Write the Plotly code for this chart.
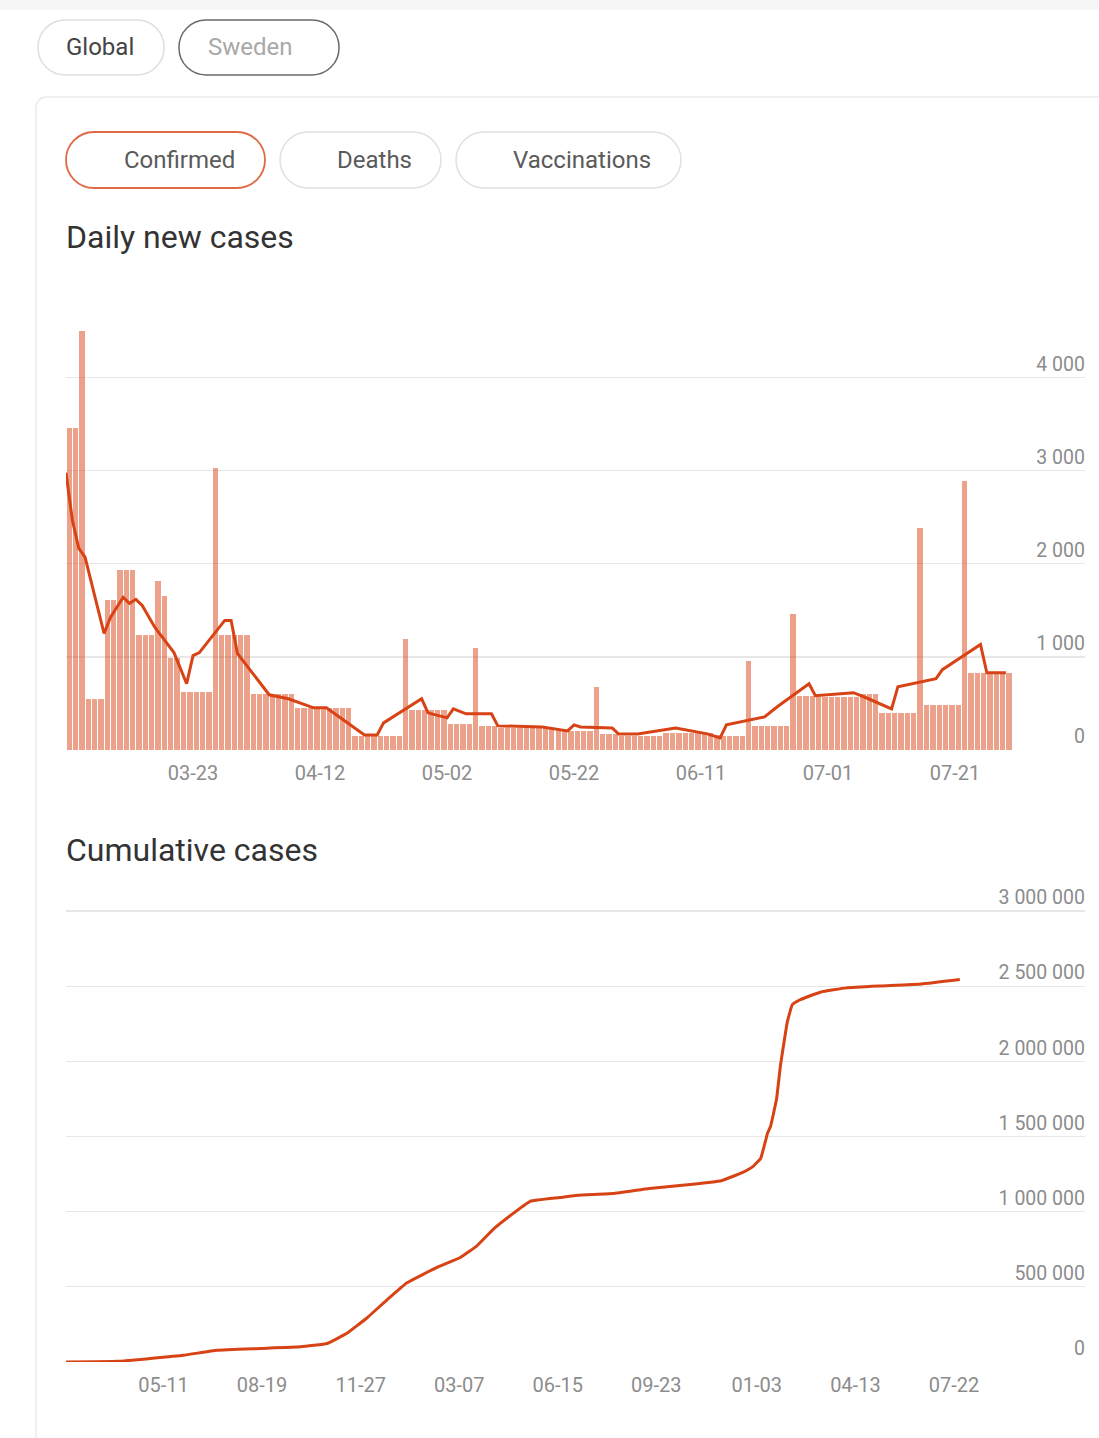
import plotly.graph_objects as go
import pandas as pd

# ---------------- data ----------------
daily_start = "2022-03-03"
daily_cases = [
    3460, 3460, 4500, 550, 550, 550, 1607, 1607, 1931, 1931,
    1931, 1240, 1240, 1240, 1812, 1650, 993, 993, 626, 626,
    626, 626, 626, 3031, 1230, 1230, 1230, 1230, 1230, 604,
    604, 604, 604, 604, 604, 604, 453, 453, 453, 453,
    453, 453, 453, 453, 453, 151, 151, 151, 151, 151,
    151, 151, 151, 1197, 430, 430, 430, 430, 430, 430,
    280, 280, 280, 280, 1100, 259, 259, 259, 237, 237,
    237, 237, 237, 237, 237, 237, 237, 205, 205, 205,
    205, 205, 205, 680, 173, 173, 173, 150, 150, 150,
    150, 150, 150, 150, 185, 185, 185, 185, 185, 185,
    185, 185, 165, 151, 151, 151, 151, 960, 259, 259,
    259, 259, 259, 259, 1456, 583, 583, 583, 565, 565,
    565, 565, 565, 565, 565, 604, 604, 604, 400, 400,
    400, 400, 400, 400, 2384, 485, 485, 485, 485, 485,
    485, 2891, 830, 830, 830, 830, 830, 830, 830,
]
avg_day_index = [0, 1, 2, 3, 6, 7, 9, 10, 11, 12, 14, 17, 19, 20, 21, 25, 26, 27, 32, 35,
                 39, 41, 47, 49, 50, 56, 57, 60, 61, 63, 67, 68, 75, 79, 80, 81, 86, 87, 90, 96,
                 101, 103, 104, 110, 112, 117, 118, 124, 126, 130, 131, 137, 138, 144, 145, 148]
avg_values = [2977, 2470, 2168, 2071, 1251, 1424, 1640, 1575, 1618, 1553, 1316, 1046, 712, 1014, 1046,
              1392, 1392, 1036, 593, 550, 453, 453, 162, 162, 291, 550, 399, 345, 442, 388, 388, 259,
              248, 205, 270, 248, 237, 173, 173, 237, 173, 129, 270, 356, 464, 712, 583, 615, 561, 442,
              680, 766, 863, 1133, 830, 830]

cum_dates = ["2020-02-02", "2020-03-25", "2020-05-31", "2020-07-04", "2020-08-17", "2020-09-27",
             "2020-10-24", "2020-11-13", "2020-12-03", "2020-12-24", "2021-01-13", "2021-02-12",
             "2021-03-08", "2021-03-25", "2021-04-11", "2021-04-28", "2021-05-18", "2021-06-17",
             "2021-07-05", "2021-08-10", "2021-09-16", "2021-10-22", "2021-11-28", "2021-12-19",
             "2021-12-30", "2022-01-07", "2022-01-14", "2022-01-17", "2022-01-23", "2022-01-27",
             "2022-02-03", "2022-02-08", "2022-02-16", "2022-03-09", "2022-04-04", "2022-05-10",
             "2022-06-19", "2022-07-28"]
cum_values = [0, 4500, 45000, 78000, 90000, 101000, 123000, 191000, 291000, 415000, 527000, 628000,
              695000, 773000, 886000, 975000, 1069000, 1094000, 1110000, 1121000, 1155000, 1177000,
              1206000, 1260000, 1300000, 1356000, 1525000, 1569000, 1749000, 1973000, 2264000,
              2377000, 2410000, 2462000, 2489000, 2502000, 2515000, 2545000]

daily_ticks = [0, 1000, 2000, 3000, 4000]
cum_ticks = [0, 500000, 1000000, 1500000, 2000000, 2500000, 3000000]
daily_xtick_dates = ["2022-03-23", "2022-04-12", "2022-05-02", "2022-05-22", "2022-06-11",
                     "2022-07-01", "2022-07-21"]
cum_xtick_dates = ["2020-05-11", "2020-08-19", "2020-11-27", "2021-03-07", "2021-06-15",
                   "2021-09-23", "2022-01-03", "2022-04-13", "2022-07-22"]
region_buttons = ["Global", "Sweden"]
metric_buttons = ["Confirmed", "Deaths", "Vaccinations"]
titles = ["Daily new cases", "Cumulative cases"]

# ---------------- helpers ----------------
W, H = 1099, 1438
def fx(px): return px / W
def fy(py): return 1 - py / H

def rrect(x0, y0, x1, y1, r):
    k = 0.5523 * r
    pts = [
        f"M{fx(x0 + r)},{fy(y0)}",
        f"L{fx(x1 - r)},{fy(y0)}",
        f"C{fx(x1 - r + k)},{fy(y0)} {fx(x1)},{fy(y0 + r - k)} {fx(x1)},{fy(y0 + r)}",
        f"L{fx(x1)},{fy(y1 - r)}",
        f"C{fx(x1)},{fy(y1 - r + k)} {fx(x1 - r + k)},{fy(y1)} {fx(x1 - r)},{fy(y1)}",
        f"L{fx(x0 + r)},{fy(y1)}",
        f"C{fx(x0 + r - k)},{fy(y1)} {fx(x0)},{fy(y1 - r + k)} {fx(x0)},{fy(y1 - r)}",
        f"L{fx(x0)},{fy(y0 + r)}",
        f"C{fx(x0)},{fy(y0 + r - k)} {fx(x0 + r - k)},{fy(y0)} {fx(x0 + r)},{fy(y0)}",
        "Z",
    ]
    return " ".join(pts)

DAY = 86400000
ORANGE = "#D84315"
BAR = "rgba(216,67,21,0.5)"
TICKC = "#8c8c8c"
GRID = "#e7e7e7"
FONT = "Roboto"

dates = pd.date_range(daily_start, periods=len(daily_cases), freq="D")
avg_dates = [dates[i] for i in avg_day_index]

fig = go.Figure()
fig.add_trace(go.Bar(x=dates, y=daily_cases, marker_color=BAR, marker_line_width=0,
                     width=0.84 * DAY, offset=0.08 * DAY, xaxis="x", yaxis="y", hoverinfo="skip"))
fig.add_trace(go.Scatter(x=avg_dates, y=avg_values, mode="lines",
                         line=dict(color=ORANGE, width=3), xaxis="x", yaxis="y", hoverinfo="skip"))
fig.add_trace(go.Scatter(x=pd.to_datetime(cum_dates), y=cum_values, mode="lines",
                         line=dict(color=ORANGE, width=3, shape="spline", smoothing=0.3),
                         xaxis="x2", yaxis="y2", hoverinfo="skip"))

shapes = []
shapes.append(dict(type="rect", xref="paper", yref="paper", x0=0, x1=1, y0=fy(10), y1=1,
                   fillcolor="#f6f6f6", line=dict(width=0), layer="below"))
shapes.append(dict(type="path", xref="paper", yref="paper", path=rrect(36, 97, 1130, 1470, 10),
                   fillcolor="white", line=dict(color="#ebebeb", width=1.5), layer="below"))

annotations = []
region_pos = [(38, 164, "#dedede", "#444444", 100), (179, 339, "#6a6a6a", "#a8a8a8", 250)]
for (x0, x1, bc, tc, cx), label in zip(region_pos, region_buttons):
    shapes.append(dict(type="path", xref="paper", yref="paper", path=rrect(x0, 20, x1, 75, 27),
                       fillcolor="white", line=dict(color=bc, width=1.5), layer="below"))
    annotations.append(dict(x=fx(cx), y=fy(47), xref="paper", yref="paper", text=label,
                            showarrow=False, xanchor="center", yanchor="middle",
                            font=dict(family=FONT, size=24, color=tc)))
metric_pos = [(66, 265, "#df6a45", 179), (280, 441, "#e0e0e0", 374), (456, 681, "#e0e0e0", 582)]
for (x0, x1, bc, cx), label in zip(metric_pos, metric_buttons):
    shapes.append(dict(type="path", xref="paper", yref="paper", path=rrect(x0, 132, x1, 188, 28),
                       fillcolor="white", line=dict(color=bc, width=1.8 if label == "Confirmed" else 1.5),
                       layer="below"))
    annotations.append(dict(x=fx(cx), y=fy(160), xref="paper", yref="paper", text=label,
                            showarrow=False, xanchor="center", yanchor="middle",
                            font=dict(family=FONT, size=24, color="#5a5a5a")))
for ty, t in zip([237, 850], titles):
    annotations.append(dict(x=fx(64), y=fy(ty), xref="paper", yref="paper", text=t,
                            showarrow=False, xanchor="left", yanchor="middle",
                            font=dict(family=FONT, size=32, color="#333333")))

common_x = dict(type="date", showgrid=False, zeroline=False, showline=False, automargin=False,
                ticks="", ticklabelstandoff=9,
                tickfont=dict(family=FONT, size=20, color=TICKC), fixedrange=True)
common_y = dict(side="right", ticklabelposition="inside top", gridcolor=GRID, gridwidth=1.3,
                zeroline=False, showline=False, tickformat=",d", ticks="", automargin=False,
                ticklabelstandoff=-3,
                tickfont=dict(family=FONT, size=19.5, color=TICKC), fixedrange=True)

fig.update_layout(
    width=W, height=H, margin=dict(l=0, r=0, t=0, b=0, autoexpand=False),
    paper_bgcolor="white", plot_bgcolor="rgba(0,0,0,0)",
    separators=". ", showlegend=False, bargap=0,
    font=dict(family=FONT),
    xaxis=dict(common_x, domain=[fx(66), fx(1085)], anchor="y",
               range=["2022-03-03", "2022-08-10 11:00"],
               tickvals=daily_xtick_dates, ticktext=[d[5:] for d in daily_xtick_dates]),
    yaxis=dict(common_y, domain=[fy(750), fy(317)], anchor="x", range=[0, 4650], tickvals=daily_ticks),
    xaxis2=dict(common_x, domain=[fx(66), fx(1085)], anchor="y2",
                range=["2020-02-02", "2022-12-02"],
                tickvals=cum_xtick_dates, ticktext=[d[5:] for d in cum_xtick_dates]),
    yaxis2=dict(common_y, domain=[fy(1362), fy(881)], anchor="x2", range=[0, 3200000], tickvals=cum_ticks),
    shapes=shapes, annotations=annotations,
)

fig.write_html("out.html", config={"displayModeBar": False, "staticPlot": True},
               post_script="document.body.style.margin='0';document.body.style.overflow='hidden';")
